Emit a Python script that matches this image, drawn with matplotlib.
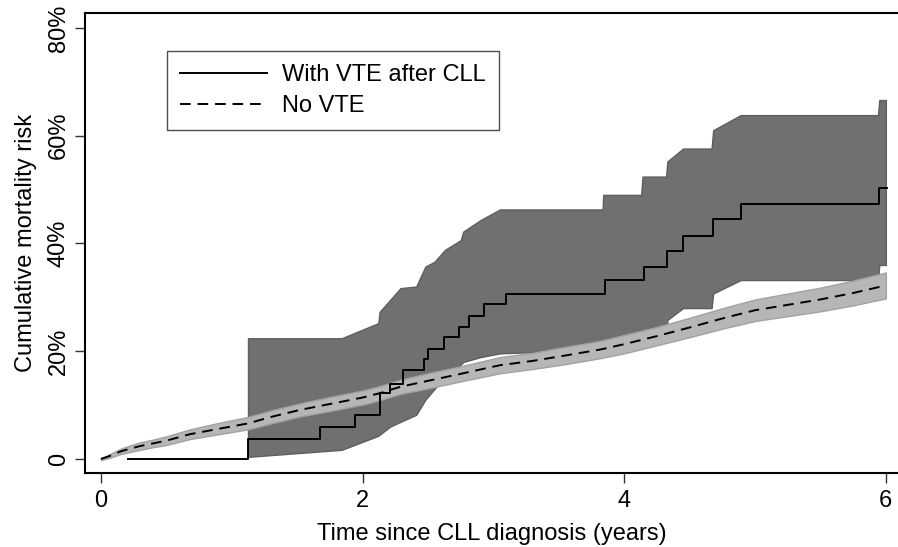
import numpy as np
import matplotlib
matplotlib.use("Agg")
import matplotlib.pyplot as plt

plt.rcParams['font.family'] = ['Liberation Sans', 'DejaVu Sans']

# No VTE: cumulative mortality (%) with confidence band
nv_t = [0, 0.05, 0.1, 0.15, 0.22, 0.3, 0.4, 0.5, 0.68, 0.9, 1.124, 1.3, 1.52, 1.75, 2.0, 2.13,
        2.29, 2.5, 2.75, 3.05, 3.3, 3.55, 3.815, 4.0, 4.25, 4.5, 4.77, 5.0, 5.25, 5.5, 5.75, 6.0]
nv_est = [0, 0.4, 0.9, 1.4, 1.9, 2.4, 2.9, 3.4, 4.6, 5.6, 6.6, 7.8, 9.1, 10.2, 11.4, 12.2,
          13.4, 14.5, 15.8, 17.4, 18.2, 19.2, 20.3, 21.3, 22.8, 24.4, 26.2, 27.6, 28.6, 29.6, 30.8, 32.2]
nv_lo = [-0.2, 0.1, 0.5, 0.9, 1.3, 1.7, 2.2, 2.6, 3.7, 4.6, 5.5, 6.6, 7.9, 8.9, 10.1, 10.9,
         12.1, 13.1, 14.4, 15.9, 16.7, 17.6, 18.7, 19.6, 21.1, 22.6, 24.3, 25.6, 26.5, 27.4, 28.5, 29.8]
nv_hi = [0.2, 0.7, 1.3, 1.9, 2.5, 3.1, 3.6, 4.2, 5.5, 6.7, 7.8, 9.0, 10.3, 11.5, 12.7, 13.5,
         14.7, 15.9, 17.2, 18.9, 19.7, 20.8, 21.9, 23.0, 24.5, 26.2, 28.1, 29.6, 30.7, 31.8, 33.1, 34.6]

# With VTE after CLL: step estimate
vte_t = [0.21, 1.124, 1.674, 1.942, 2.133, 2.21, 2.31, 2.47, 2.50, 2.62, 2.74, 2.81, 2.93,
         3.10, 3.853, 4.151, 4.325, 4.452, 4.681, 4.893, 5.95, 6.01]
vte_y = [0, 3.65, 6.0, 8.2, 12.3, 14.0, 16.5, 18.5, 20.5, 22.6, 24.5, 26.5, 28.7,
         30.7, 33.2, 35.7, 38.6, 41.4, 44.5, 47.3, 50.3, 50.3]

# With VTE: confidence band
ci_t = [1.124, 1.84, 2.12, 2.13, 2.21, 2.29, 2.41, 2.48, 2.55, 2.63, 2.75, 2.77, 2.90, 3.05,
        3.835, 3.84, 4.13, 4.14, 4.32, 4.33, 4.45, 4.668, 4.68, 4.89, 5.94, 5.95, 6.0]
ci_lo = [0.4, 1.7, 4.3, 4.5, 6.0, 6.9, 8.2, 11.0, 13.0, 15.5, 17.5, 18.0, 18.9, 19.6,
         20.3, 20.3, 21.5, 21.5, 22.2, 25.8, 28.0, 28.0, 30.7, 33.2, 33.2, 36.0, 36.0]
ci_hi = [22.4, 22.4, 25.2, 27.3, 29.5, 31.7, 32.0, 35.7, 36.6, 38.8, 40.6, 42.2, 44.3, 46.3,
         46.3, 49.0, 49.0, 52.4, 52.4, 55.2, 57.6, 57.6, 61.0, 63.8, 63.8, 66.6, 66.6]

yticks = [0, 20, 40, 60, 80]
ytick_labels = ["0", "20%", "40%", "60%", "80%"]
xticks = [0, 2, 4, 6]

fig = plt.figure(figsize=(8.98, 5.47), dpi=100)
ax = fig.add_axes([85/898, 1-473/547, 813/898, 460/547])

ax.fill_between(ci_t, ci_lo, ci_hi, facecolor="#707070", edgecolor="#5e5e5e", linewidth=1, zorder=1)
ax.fill_between(nv_t, nv_lo, nv_hi, facecolor="#b6b6b6", edgecolor="#a2a2a2", linewidth=1, zorder=2)
ax.plot(vte_t, vte_y, drawstyle="steps-post", color="black", linewidth=1.4, zorder=3,
        label="With VTE after CLL")
ax.plot(nv_t, nv_est, color="black", linewidth=1.4, dashes=(5.5, 3.5), zorder=4, label="No VTE")

ax.set_xlim(-0.122, 6.093)
ax.set_ylim(-2.6, 82.75)
ax.set_xticks(xticks)
ax.set_xticklabels([str(x) for x in xticks])
ax.set_yticks(yticks)
ax.set_yticklabels(ytick_labels, rotation=90, va="center")
ax.tick_params(direction="out", length=7, width=1, color="#333333", labelsize=17, pad=5)
ax.tick_params(axis="y", pad=4)
for s in ["left", "bottom", "top"]:
    ax.spines[s].set_linewidth(1.5)
ax.spines["right"].set_visible(False)

ax.set_xlabel("Time since CLL diagnosis (years)", fontsize=17, labelpad=8)
ax.set_ylabel("Cumulative mortality risk", fontsize=17, labelpad=8)

leg = ax.legend(loc="upper left", bbox_to_anchor=((167-85)/813, (473-51)/460), borderaxespad=0,
                fontsize=17, handlelength=3.7, handletextpad=0.64, borderpad=0.55,
                labelspacing=0.4, fancybox=False, frameon=True)
leg.get_frame().set_edgecolor("#222222")
leg.get_frame().set_linewidth(1.0)

fig.savefig("out.png", dpi=100)
